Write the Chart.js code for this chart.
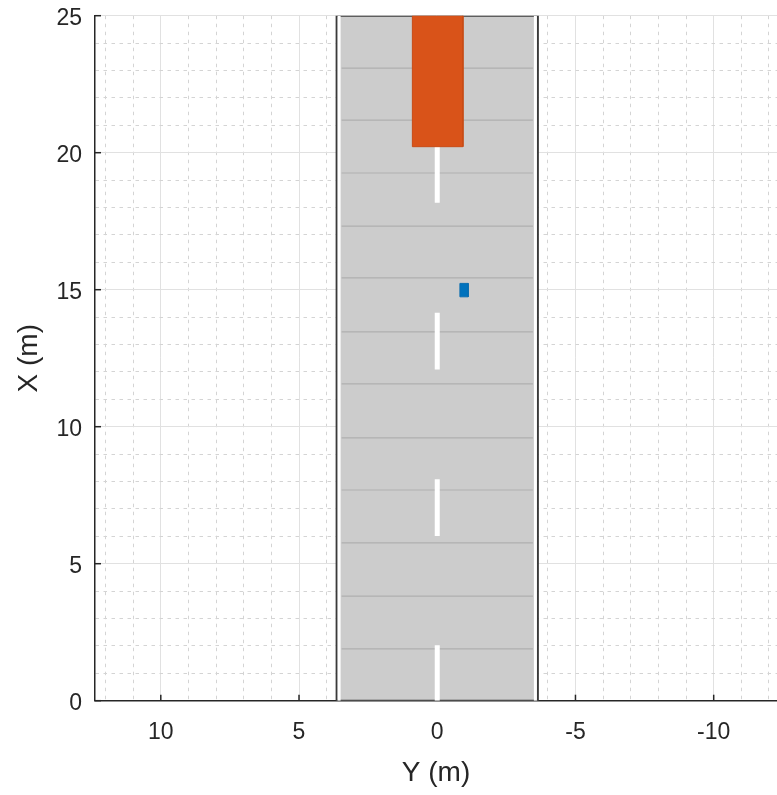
<!DOCTYPE html>
<html>
<head>
<meta charset="utf-8">
<script src="https://cdn.jsdelivr.net/npm/chart.js@4.4.1/dist/chart.umd.min.js"></script>
<style>
html,body{margin:0;padding:0;background:#ffffff;}
canvas{display:block;}
</style>
</head>
<body>
<canvas id="c" width="777" height="795"></canvas>
<script>
// ---- data ----
const majorXTicks = [10, 5, 0, -5, -10];          // Y (m) axis, reversed
const majorYTicks = [0, 5, 10, 15, 20, 25];       // X (m) axis
const xLimits = [-12.29, 12.38];
const yLimits = [0, 25];

const roadEdgesY = [3.64, -3.64];
const roadRangeX = [0, 25];
const laneEdgesY = [3.55, -3.55];
const meshStationsX = [1.89, 3.82, 5.76, 7.69, 9.59, 11.56, 13.46, 15.43, 17.32, 19.26, 21.19, 23.09];
const meshHalfWidth = 3.46;
const centerDashStart = [0, 6.01, 12.09, 18.17];
const centerDashEnd = [2.02, 8.08, 14.16, 20.22];

const carY = [0.9, -0.93];
const carX = [20.22, 25];
const sensorY = [-0.82, -1.12];
const sensorX = [14.74, 15.23];

// ---- helpers building library data from the arrays ----
function rectPts(ys, xs) {
  return [
    {x: ys[0], y: xs[0]}, {x: ys[0], y: xs[1]},
    {x: ys[1], y: xs[1]}, {x: ys[1], y: xs[0]}, {x: ys[0], y: xs[0]}
  ];
}
const meshPts = [];
meshStationsX.forEach(s => {
  meshPts.push({x: meshHalfWidth, y: s}, {x: -meshHalfWidth, y: s}, {x: -meshHalfWidth, y: null});
});
const lanePts = [];
laneEdgesY.forEach(e => {
  lanePts.push({x: e, y: roadRangeX[0]}, {x: e, y: roadRangeX[1]}, {x: e, y: null});
});
const dashPts = [];
centerDashStart.forEach((s, i) => {
  dashPts.push({x: 0, y: s}, {x: 0, y: centerDashEnd[i]}, {x: 0, y: null});
});

const FONT = "'Liberation Sans', Arial, sans-serif";
const TXT = '#262626';

const tickMarks = {
  id: 'tickMarks',
  beforeDatasetsDraw(chart) {
    const {ctx, chartArea, scales} = chart;
    ctx.save();
    ctx.strokeStyle = TXT;
    ctx.lineWidth = 1.5;
    majorXTicks.forEach(v => {
      const px = scales.x.getPixelForValue(v);
      ctx.beginPath(); ctx.moveTo(px, chartArea.bottom); ctx.lineTo(px, chartArea.bottom - 6); ctx.stroke();
    });
    majorYTicks.forEach(v => {
      const py = scales.y.getPixelForValue(v);
      ctx.beginPath(); ctx.moveTo(chartArea.left, py); ctx.lineTo(chartArea.left + 6, py); ctx.stroke();
    });
    ctx.restore();
  }
};

const common = {pointRadius: 0, pointHoverRadius: 0, tension: 0, spanGaps: false};

new Chart(document.getElementById('c'), {
  type: 'line',
  data: {
    datasets: [
      Object.assign({label: 'road', data: rectPts(roadEdgesY, roadRangeX), fill: 'shape',
        backgroundColor: '#cccccc', borderColor: '#3a3a3a', borderWidth: 2, order: 6}, common),
      Object.assign({label: 'mesh', data: meshPts, fill: false,
        borderColor: '#afafaf', borderWidth: 1.2, order: 5}, common),
      Object.assign({label: 'lane edges', data: lanePts, fill: false,
        borderColor: '#ffffff', borderWidth: 3, order: 4}, common),
      Object.assign({label: 'center', data: dashPts, fill: false,
        borderColor: '#ffffff', borderWidth: 5, order: 3}, common),
      Object.assign({label: 'car', data: rectPts(carY, carX), fill: 'shape',
        backgroundColor: '#D95319', borderColor: '#c94b15', borderWidth: 1, order: 2}, common),
      Object.assign({label: 'sensor', data: rectPts(sensorY, sensorX), fill: 'shape',
        backgroundColor: '#0072BD', borderColor: '#0a6db0', borderWidth: 1, order: 1}, common)
    ]
  },
  options: {
    responsive: false,
    devicePixelRatio: 1,
    animation: false,
    events: [],
    layout: {padding: {top: 15.7, left: 0, right: 0, bottom: 0}},
    plugins: {legend: {display: false}, tooltip: {enabled: false}},
    scales: {
      x: {
        type: 'linear', position: 'bottom', reverse: true,
        min: xLimits[0], max: xLimits[1],
        afterFit: s => { s.height = 94.3; s.paddingLeft = 0; s.paddingRight = 0; s.paddingTop = 0; s.paddingBottom = 0; },
        ticks: {
          stepSize: 1, includeBounds: false, autoSkip: false, maxRotation: 0, minRotation: 0,
          padding: 18, color: TXT, font: {family: FONT, size: 23},
          callback: v => majorXTicks.includes(v) ? String(v) : ''
        },
        grid: {
          drawTicks: false,
          color: c => (c.tick && majorXTicks.includes(c.tick.value)) ? '#e1e1e1' : '#d4d4d4',
          lineWidth: 1
        },
        border: {
          display: true, color: TXT, width: 1.5,
          dash: c => (c.tick && !majorXTicks.includes(c.tick.value)) ? [3.5, 4.5] : []
        },
        title: {display: true, text: 'Y (m)', color: TXT, font: {family: FONT, size: 28},
          padding: {top: 0, bottom: 5}}
      },
      y: {
        type: 'linear', position: 'left',
        min: yLimits[0], max: yLimits[1],
        afterFit: s => { s.width = 95; s.paddingLeft = 0; s.paddingRight = 0; s.paddingTop = 0; s.paddingBottom = 0; },
        ticks: {
          stepSize: 1, includeBounds: false, autoSkip: false,
          padding: 13, labelOffset: 3, color: TXT, font: {family: FONT, size: 23},
          callback: v => majorYTicks.includes(v) ? String(v) : ''
        },
        grid: {
          drawTicks: false,
          color: c => (c.tick && majorYTicks.includes(c.tick.value)) ? '#e1e1e1' : '#d4d4d4',
          lineWidth: 1
        },
        border: {
          display: true, color: TXT, width: 1.5,
          dash: c => (c.tick && !majorYTicks.includes(c.tick.value)) ? [3.5, 4.5] : []
        },
        title: {display: true, text: 'X (m)', color: TXT, font: {family: FONT, size: 28},
          padding: {top: 12, bottom: 0}}
      }
    }
  },
  plugins: [tickMarks]
});
</script>
</body>
</html>
